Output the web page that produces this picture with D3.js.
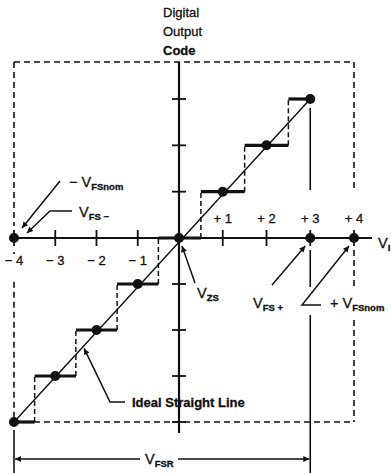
<!DOCTYPE html>
<html>
<head>
<meta charset="utf-8">
<script src="https://cdn.jsdelivr.net/npm/d3@7"></script>
<style>
  html, body { margin: 0; padding: 0; background: #fff; }
  svg { display: block; }
  text { font-family: "Liberation Sans", Arial, Helvetica, sans-serif; fill: #111; stroke: #111; stroke-width: 0.3px; }
</style>
</head>
<body>
<svg id="chart" width="391" height="473"></svg>
<script>
// Ideal 3-bit bipolar converter transfer function
const codes = [-4, -3, -2, -1, 0, 1, 2, 3];             // output code levels (one dot per code)
const transitions = [-3.5, -2.5, -1.5, -0.5, 0.5, 1.5, 2.5]; // input levels where the code steps up
const xTicks = [-4, -3, -2, -1, 1, 2, 3, 4];
const xTickLabels = ["− 4", "− 3", "− 2", "− 1", "+ 1", "+ 2", "+ 3", "+ 4"];
const yTicks = [-4, -3, -2, -1, 1, 2, 3];
const rangeEnds = [-4, 3, 4];   // V_FS− (= −V_FSnom), V_FS+, +V_FSnom on the input axis
const inputMin = -4, inputMax = 4, codeMin = -4, frameTop = 3.8;

const svg = d3.select("#chart");
const ink = "#111";

const x = d3.scaleLinear().domain([-4, 0, 4]).range([14, 179, 354]);
const y = d3.scaleLinear().domain([-4, 0, 3]).range([422, 238, 99]);

// arrowhead marker
svg.append("defs").append("marker")
  .attr("id", "ah").attr("viewBox", "0 0 10 10")
  .attr("refX", 10).attr("refY", 5)
  .attr("markerWidth", 9).attr("markerHeight", 6)
  .attr("markerUnits", "userSpaceOnUse")
  .attr("orient", "auto")
  .append("path").attr("d", "M0,0 L10,5 L0,10 Z").attr("fill", ink);

const line = d3.line();
const dash = "6,4";

function seg(pts, opts = {}) {
  const p = svg.append("path").attr("d", line(pts))
    .attr("fill", "none").attr("stroke", ink)
    .attr("stroke-width", opts.w || 1.6);
  if (opts.dash) p.attr("stroke-dasharray", opts.dash);
  if (opts.arrow) p.attr("marker-end", "url(#ah)");
  return p;
}

// dashed full-scale frame
const xl = x(inputMin), xr = x(inputMax), yt = y(frameTop), yb = y(codeMin);
seg([[xl, yt], [xr, yt]], { dash });
seg([[xl, yb], [xr, yb]], { dash });
seg([[xl, yt], [xl, y(0) - 12]], { dash });
seg([[xl, y(0) + 14], [xl, y(0) + 16]], { dash });
seg([[xl, y(-0.95)], [xl, yb]], { dash });
seg([[xr, yt], [xr, y(0) - 48]], { dash });
seg([[xr, y(0) + 12], [xr, y(0) + 48]], { dash });
seg([[xr, y(0) + 82], [xr, yb]], { dash });

// axes
seg([[x(0), yt], [x(0), y(codeMin) + 11]], { w: 2.2 });
seg([[x(inputMin), y(0)], [372, y(0)]], { w: 2.2 });

// axis ticks
xTicks.forEach(t => seg([[x(t), y(0) - 8], [x(t), y(0) + 8]], { w: 1.8 }));
yTicks.forEach(t => seg([[x(0) - 7, y(t)], [x(0) + 7, y(t)]], { w: 1.8 }));

// tick labels: negatives below the axis, positives above
svg.selectAll("text.xt").data(xTicks).join("text")
  .attr("class", "xt")
  .attr("x", d => x(d)).attr("y", d => d < 0 ? y(0) + 27 : y(0) - 15)
  .attr("text-anchor", "middle").attr("font-size", 13)
  .text((d, i) => xTickLabels[i]);

// V_FS+ reference line and full-scale-range extension lines
const xp = x(rangeEnds[1]);
seg([[xp, y(3) + 9], [xp, y(0) - 48]], { w: 1.6 });
seg([[xp, y(0) + 12], [xp, y(0) + 49]], { w: 1.6 });
seg([[xp, y(0) + 77], [xp, 473]], { w: 1.6 });
seg([[xl, yb + 8], [xl, 473]], { w: 1.6 });

// ideal straight line through the code centres
seg([[x(codes[0]), y(codes[0])], [x(codes[codes.length - 1]), y(codes[codes.length - 1])]], { w: 1.4 });

// dashed risers at each code transition
transitions.forEach(t => {
  seg([[x(t), y(t - 0.5)], [x(t), y(t + 0.5)]], { w: 1.5, dash: "5,3" });
});

// solid code treads
codes.forEach(k => {
  const a = Math.max(k - 0.5, inputMin), b = Math.min(k + 0.5, rangeEnds[1]);
  seg([[x(a), y(k)], [x(b), y(k)]], { w: 3.2 });
});

// code-centre dots
svg.selectAll("circle.code").data(codes).join("circle")
  .attr("class", "code")
  .attr("cx", d => x(d)).attr("cy", d => y(d)).attr("r", 5).attr("fill", ink);

// input-range end dots on the axis
svg.selectAll("circle.end").data(rangeEnds).join("circle")
  .attr("class", "end")
  .attr("cx", d => x(d)).attr("cy", y(0)).attr("r", 5).attr("fill", ink);

// labels with subscripts
function vlabel(px, py, pre, main, sub, size = 14.5, subSize = 9.5) {
  const t = svg.append("text").attr("x", px).attr("y", py).attr("font-size", size);
  if (pre) t.append("tspan").text(pre);
  t.append("tspan").text(main);
  t.append("tspan").attr("font-size", subSize).attr("font-weight", "bold")
    .attr("dy", 3).text(sub);
  return t;
}

// −V_FSnom and V_FS− pointers
vlabel(69, 187, "− ", "V", "FSnom");
seg([[60, 181], [x(-4) + 8, y(0) - 10]], { w: 1.5, arrow: true });
vlabel(79, 217, null, "V", "FS −");
seg([[72, 211], [50, 211], [x(-4) + 13, y(0) - 5]], { w: 1.5, arrow: true });

// V_ZS pointer
vlabel(197, 298, null, "V", "ZS");
seg([[195, 283], [x(0) + 3, y(0) + 8]], { w: 1.5, arrow: true });

// V_FS+ and +V_FSnom pointers
vlabel(253, 308, null, "V", "FS +");
seg([[272, 285], [x(3) - 5, y(0) + 8]], { w: 1.5, arrow: true });
vlabel(330, 308, "+ ", "V", "FSnom");
seg([[321, 305], [302, 305], [x(4) - 5, y(0) + 8]], { w: 1.5, arrow: true });

// ideal line pointer
svg.append("text").attr("x", 132).attr("y", 407).attr("font-size", 13)
  .attr("font-weight", "bold").text("Ideal Straight Line");
seg([[125, 402], [110, 402], [x(-2.3), y(-2.4)]], { w: 1.5, arrow: true });

// full-scale range dimension
seg([[140, 459], [xl + 1, 459]], { w: 1.6, arrow: true });
seg([[178, 459], [xp - 1, 459]], { w: 1.6, arrow: true });
vlabel(145, 464, null, "V", "FSR");

// input axis title
vlabel(378, 248, null, "V", "I");

// output axis title
const yt0 = svg.append("text").attr("x", 163).attr("font-size", 13);
yt0.append("tspan").attr("x", 163).attr("y", 17).text("Digital");
yt0.append("tspan").attr("x", 163).attr("y", 36).text("Output");
yt0.append("tspan").attr("x", 163).attr("y", 55).attr("font-weight", "bold").text("Code");
</script>
</body>
</html>
